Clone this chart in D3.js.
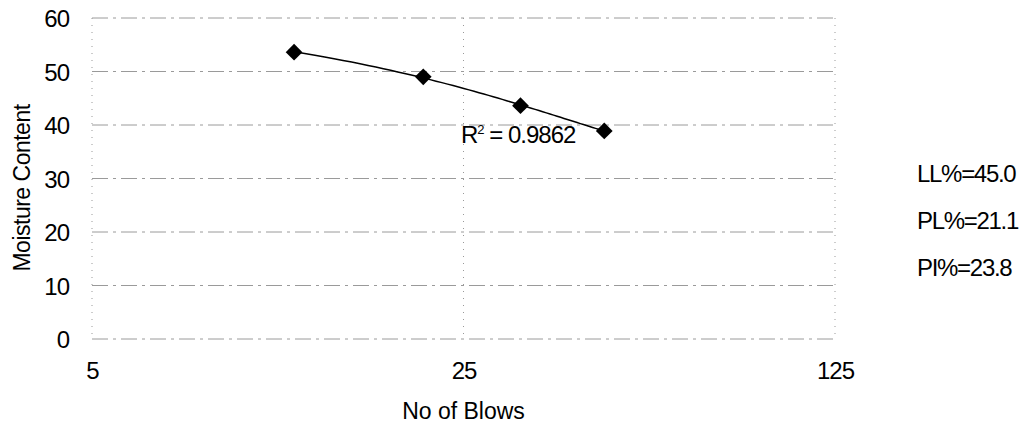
<!DOCTYPE html>
<html>
<head>
<meta charset="utf-8">
<script src="https://cdn.jsdelivr.net/npm/d3@7"></script>
<style>
  body { margin: 0; background: #fff; }
  svg text { font-family: "Liberation Sans", Arial, sans-serif; fill: #000; }
</style>
</head>
<body>
<svg></svg>
<script>
const width = 1023;
const height = 426;

// data
const blows = [12, 21, 32, 46];
const moisture = [53.6, 49.0, 43.6, 38.9];
const xTicks = [5, 25, 125];
const yTicks = [0, 10, 20, 30, 40, 50, 60];
const r2Label = "0.9862";
const limits = ["LL%=45.0", "PL%=21.1", "PI%=23.8"];

const data = blows.map((b, i) => ({x: b, y: moisture[i]}));

const margin = {left: 92, right: 188, top: 18, bottom: 87};

let xScale = d3.scaleLog()
            .base(5)
            .domain([5, 125])
            .range([margin.left, width - margin.right]);
let yScale = d3.scaleLinear()
            .domain([0, 60])
            .range([height - margin.bottom, margin.top]);

let svg = d3.select("svg")
            .attr("width", width)
            .attr("height", height);

//gridlines
svg.append("g")
    .selectAll("line")
    .data(yTicks)
    .enter()
    .append("line")
        .attr("x1", xScale(5))
        .attr("x2", xScale(125))
        .attr("y1", d => yScale(d))
        .attr("y2", d => yScale(d))
        .attr("stroke", "#9a9a9a")
        .attr("stroke-width", 1)
        .attr("stroke-dasharray", "16,5,3,5");
svg.append("g")
    .selectAll("line")
    .data(xTicks)
    .enter()
    .append("line")
        .attr("x1", d => xScale(d))
        .attr("x2", d => xScale(d))
        .attr("y1", yScale(60))
        .attr("y2", yScale(0))
        .attr("stroke", "#999")
        .attr("stroke-width", 1)
        .attr("stroke-dasharray", "1,6");

//axes (labels only)
let xAxis = d3.axisBottom(xScale)
            .tickValues(xTicks)
            .tickFormat(d3.format("d"))
            .tickSize(0);
let yAxis = d3.axisLeft(yScale)
            .tickValues(yTicks)
            .tickSize(0);
let gx = svg.append("g")
    .attr("transform", `translate(0, ${yScale(0)})`)
    .call(xAxis);
let gy = svg.append("g")
    .attr("transform", `translate(${margin.left - 23}, 0)`)
    .call(yAxis);
[gx, gy].forEach(g => {
    g.select(".domain").remove();
    g.selectAll("text")
        .style("font-family", "Liberation Sans, Arial, sans-serif")
        .style("font-size", "24px")
        .style("letter-spacing", "-1px")
        .attr("fill", "#000");
});
gx.selectAll("text").attr("dy", 0).attr("y", 40);
gy.selectAll("text").attr("x", 0).attr("dy", "0.36em");

//quadratic trendline (least squares)
function polyFit(pts) {
    let s = [0, 0, 0, 0, 0], t = [0, 0, 0];
    pts.forEach(p => {
        for (let k = 0; k < 5; k++) s[k] += Math.pow(p.x, k);
        for (let k = 0; k < 3; k++) t[k] += p.y * Math.pow(p.x, k);
    });
    let A = [[s[0], s[1], s[2], t[0]], [s[1], s[2], s[3], t[1]], [s[2], s[3], s[4], t[2]]];
    for (let i = 0; i < 3; i++) {
        for (let j = i + 1; j < 3; j++) {
            let f = A[j][i] / A[i][i];
            for (let k = i; k < 4; k++) A[j][k] -= f * A[i][k];
        }
    }
    let c = [0, 0, 0];
    for (let i = 2; i >= 0; i--) {
        let v = A[i][3];
        for (let k = i + 1; k < 3; k++) v -= A[i][k] * c[k];
        c[i] = v / A[i][i];
    }
    return x => c[0] + c[1] * x + c[2] * x * x;
}
let fit = polyFit(data);
let xMin = d3.min(blows), xMax = d3.max(blows);
let curve = d3.range(0, 61).map(i => {
    let x = xMin + (xMax - xMin) * i / 60;
    return {x: x, y: fit(x)};
});
svg.append("path")
    .datum(curve)
    .attr("fill", "none")
    .attr("stroke", "#000")
    .attr("stroke-width", 1.5)
    .attr("d", d3.line().x(d => xScale(d.x)).y(d => yScale(d.y)));

//markers
svg.selectAll(".pt")
    .data(data)
    .enter()
    .append("path")
        .attr("class", "pt")
        .attr("d", d3.symbol().type(d3.symbolSquare).size(140))
        .attr("transform", d => `translate(${xScale(d.x)}, ${yScale(d.y)}) rotate(45)`)
        .attr("fill", "#000");

//R squared label
let r2 = svg.append("text")
    .attr("x", 461)
    .attr("y", 143)
    .style("font-size", "24px")
    .style("letter-spacing", "-1px");
r2.append("tspan").text("R");
r2.append("tspan").text("2").attr("dy", -9).style("font-size", "13px");
r2.append("tspan").text(" = " + r2Label).attr("dy", 9);

//limit labels
svg.selectAll(".lim")
    .data(limits)
    .enter()
    .append("text")
        .attr("class", "lim")
        .attr("x", 917)
        .attr("y", (d, i) => 182 + i * 47)
        .style("font-size", "24px")
        .style("letter-spacing", "-1.3px")
        .text(d => d);

//axis titles
svg.append("text")
    .attr("x", xScale(25))
    .attr("y", 419)
    .style("text-anchor", "middle")
    .style("font-size", "23px")
    .text("No of Blows");

svg.append("text")
    .attr("transform", "rotate(-90)")
    .attr("x", -188)
    .attr("y", 30)
    .style("text-anchor", "middle")
    .style("font-size", "23px")
    .style("letter-spacing", "-0.5px")
    .text("Moisture Content");
</script>
</body>
</html>
